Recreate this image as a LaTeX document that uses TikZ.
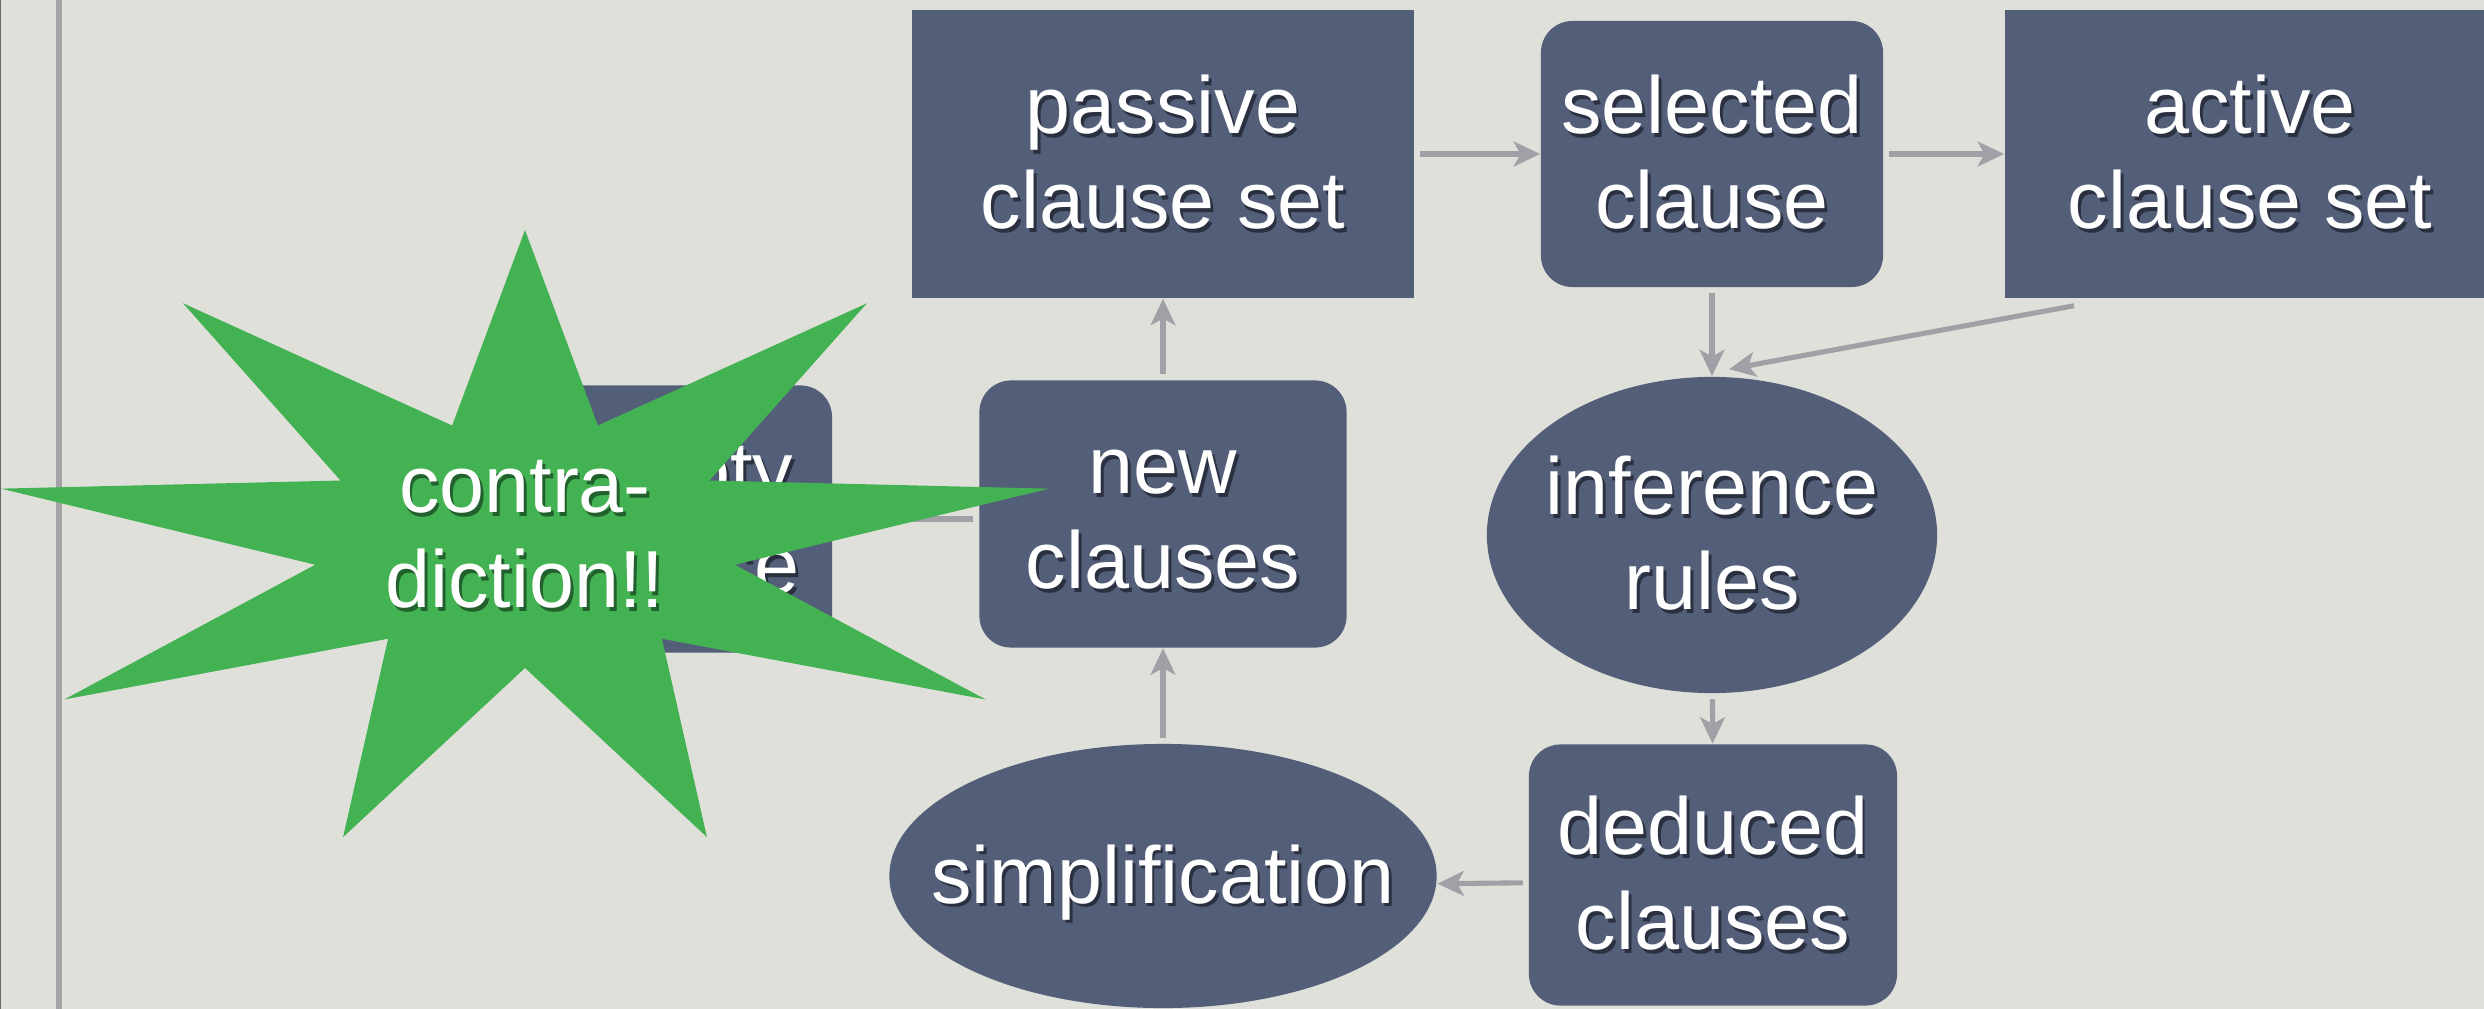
\documentclass[tikz,border=0pt]{standalone}
\usepackage{fontspec}
\setmainfont{Liberation Sans}
\usetikzlibrary{arrows.meta,shapes.geometric}

\definecolor{paper}{RGB}{224,224,218}
\definecolor{slate}{RGB}{83,95,121}
\definecolor{wire}{RGB}{160,160,166}
\definecolor{margin}{RGB}{163,163,168}
\definecolor{burstgreen}{RGB}{67,178,83}
\definecolor{boxshade}{RGB}{42,48,63}
\definecolor{burstshade}{RGB}{34,96,45}

% centred stack of lines
\newcommand\stack[1]{\begin{tabular}{@{}c@{}}#1\end{tabular}}
% white text with a dark drop shadow; #1 shadow colour, #2 lines
\newcommand\shtxt[2]{%
  \rlap{\kern0.8pt\raisebox{-1pt}{\textcolor{#1}{\stack{#2}}}}%
  \textcolor{white}{\stack{#2}}}

\begin{document}
\begin{tikzpicture}[x=0.01cm, y=-0.01cm,
  box/.style={rectangle, fill=slate, inner sep=0pt},
  rbox/.style={box, rounded corners=9pt},
  oval/.style={ellipse, fill=slate, inner sep=0pt},
  lbl/.style={inner sep=0pt, font=\fontsize{23}{27}\selectfont},
  arr/.style={draw=wire, line width=1.45pt,
    -{Stealth[length=7.5pt,width=7pt,inset=1.9pt]}, shorten <=1.5pt},
  burst/.style={fill=burstgreen}]

\useasboundingbox (0,0) rectangle (2484,1009);
\fill[paper] (0,0) rectangle (2484,1009);

% page margin rules
\draw[line width=0.3pt, draw=black!60] (0.5,0) -- (0.5,1009);
\draw[line width=1.45pt, draw=margin] (59,0) -- (59,1009);

% clause sets and processing steps
\node[box,  minimum width=5.01cm, minimum height=2.88cm] (passive)  at (1163,154) {};
\node[rbox, minimum width=3.42cm, minimum height=2.66cm] (selected) at (1712,154) {};
\node[box,  minimum width=4.90cm, minimum height=2.88cm] (active)   at (2250,154) {};
\node[rbox, minimum width=3.67cm, minimum height=2.67cm] (new)      at (1163,514) {};
\node[rbox, minimum width=2.98cm, minimum height=2.67cm] (empty)    at (683,519) {};
\node[oval, minimum width=4.50cm, minimum height=3.16cm] (infer)    at (1712,535) {};
\node[rbox, minimum width=3.68cm, minimum height=2.61cm] (deduced)  at (1713,875) {};
\node[oval, minimum width=5.47cm, minimum height=2.64cm] (simp)     at (1163,876) {};

\node[lbl] (passive-t)  at ([yshift=-2.85pt]passive.center)  {\shtxt{boxshade}{passive\\clause set}};
\node[lbl] (selected-t) at ([yshift=-2.85pt]selected.center) {\shtxt{boxshade}{selected\\clause}};
\node[lbl] (active-t)   at ([yshift=-2.85pt]active.center)   {\shtxt{boxshade}{active\\clause set}};
\node[lbl] (new-t)      at ([yshift=-2.85pt]new.center)      {\shtxt{boxshade}{new\\clauses}};
\node[lbl] (empty-t)    at ([yshift=-2.85pt]empty.center)    {\shtxt{boxshade}{empty\\clause}};
\node[lbl] (infer-t)    at ([yshift=-2.85pt]infer.center)    {\shtxt{boxshade}{inference\\rules}};
\node[lbl] (deduced-t)  at ([yshift=-2.85pt]deduced.center)  {\shtxt{boxshade}{deduced\\clauses}};
\node[lbl] (simp-t)     at ([yshift=-2.85pt]simp.center)     {\shtxt{boxshade}{simplification}};

% flow of clauses
\draw[arr] (passive) -- (selected);
\draw[arr] (selected) -- (active);
\draw[arr] (selected) -- (infer);
\draw[arr] ([shift={(75,6)}]active.south west) -- ([shift={(17,-7)}]infer.north);
\draw[arr] (infer) -- (deduced);
\draw[arr] ([yshift=-2.2pt]deduced.west) -- ([yshift=-2.2pt]simp.east);
\draw[arr] (simp) -- (new);
\draw[arr] (new) -- (passive);
\draw[arr] (new.west |- empty.east) -- (empty.east);

% nine-pointed burst
\coordinate (burst) at (525,543);
\fill[burst] plot[samples at={0,...,17}]
  ({525+(213+319*(1-mod(\x,2)))*cos(90-20*\x)},
   {543-(125+188*(1-mod(\x,2)))*sin(90-20*\x)}) -- cycle;
\node[lbl] (burst-t) at (burst) {\shtxt{burstshade}{contra-\\diction!!}};

\end{tikzpicture}
\end{document}
